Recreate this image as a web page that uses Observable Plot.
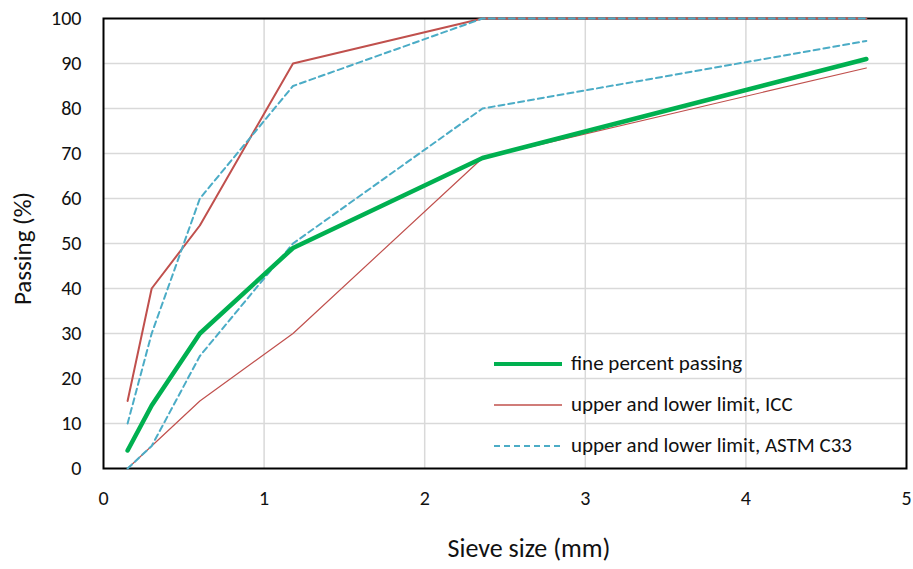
<!DOCTYPE html>
<html><head><meta charset="utf-8">
<script src="https://cdn.jsdelivr.net/npm/d3@7"></script>
<script src="https://cdn.jsdelivr.net/npm/@observablehq/plot@0.6"></script>
<style>
body{margin:0;background:#fff;}
#wrap{position:relative;width:913px;height:569px;font-family:Carlito,Calibri,Lato,sans-serif;color:#000;}
#legend{position:absolute;left:494px;top:343px;font-size:21px;line-height:41px;color:#111;}
#legend .row{display:flex;align-items:center;height:41px;}
#legend svg{margin-right:7px;}
</style>
</head><body><div id="wrap"></div>
<script>
const sieve = [0.15, 0.3, 0.6, 1.18, 2.36, 4.75];
const finePassing = [4, 14, 30, 49, 69, 91];
const iccUpper = [15, 40, 54, 90, 100, 100];
const iccLower = [0, 5, 15, 30, 69, 89];
const astmUpper = [10, 30, 60, 85, 100, 100];
const astmLower = [0, 5, 25, 50, 80, 95];
const xTicks = [0, 1, 2, 3, 4, 5];
const yTicks = [0, 10, 20, 30, 40, 50, 60, 70, 80, 90, 100];
const xLabel = "Sieve size (mm)";
const yLabel = "Passing (%)";
const legendLabels = ["fine percent passing", "upper and lower limit, ICC", "upper and lower limit, ASTM C33"];

const rows = (ys) => sieve.map((x, i) => ({x, y: ys[i]}));

const chart = Plot.plot({
  width: 913, height: 569,
  marginLeft: 103, marginRight: 7, marginTop: 18, marginBottom: 101,
  style: {fontFamily: "Carlito, Calibri, Lato, sans-serif", fontSize: "18px", color: "#111", background: "#fff"},
  x: {domain: [0, 5], ticks: xTicks},
  y: {domain: [0, 100], ticks: yTicks},
  marks: [
    Plot.gridX(xTicks.slice(1, -1), {stroke: "#d9d9d9", strokeOpacity: 1, strokeWidth: 1.5}),
    Plot.gridY(yTicks.slice(1, -1), {stroke: "#d9d9d9", strokeOpacity: 1, strokeWidth: 1.5}),
    Plot.frame({stroke: "#000", strokeWidth: 2}),
    Plot.axisX(xTicks, {tickSize: 0, tickPadding: 22, fontSize: 20, tickFormat: "d", label: xLabel, labelAnchor: "center", labelOffset: 88, labelArrow: "none"}),
    Plot.axisY(yTicks, {tickSize: 0, tickPadding: 22, fontSize: 20, tickFormat: "d", label: yLabel, labelAnchor: "center", labelOffset: 90, labelArrow: "none"}),
    Plot.line(rows(iccLower), {x: "x", y: "y", stroke: "#c0504d", strokeWidth: 1.2}),
    Plot.line(rows(iccUpper), {x: "x", y: "y", stroke: "#c0504d", strokeWidth: 2}),
    Plot.line(rows(astmLower), {x: "x", y: "y", stroke: "#4bacc6", strokeWidth: 2, strokeDasharray: "6,4"}),
    Plot.line(rows(astmUpper), {x: "x", y: "y", stroke: "#4bacc6", strokeWidth: 2, strokeDasharray: "6,4"}),
    Plot.line(rows(finePassing), {x: "x", y: "y", stroke: "#00b050", strokeWidth: 4.5, strokeLinecap: "round", strokeLinejoin: "round"})
  ]
});
const wrap = document.getElementById("wrap");
wrap.appendChild(chart);
chart.querySelectorAll("text").forEach(t => {
  if (t.textContent === xLabel) {
    t.style.fontSize = "26px";
    t.setAttribute("dx", "24");
  } else if (t.textContent === yLabel) {
    t.style.fontSize = "25px";
    t.setAttribute("dx", "-5");
  }
});

const legend = document.createElement("div");
legend.id = "legend";
const swatches = [
  '<line x1="0" y1="7" x2="68" y2="7" stroke="#00b050" stroke-width="4"/>',
  '<line x1="0" y1="7" x2="68" y2="7" stroke="#c0504d" stroke-width="1.5"/>',
  '<line x1="0" y1="7" x2="68" y2="7" stroke="#4bacc6" stroke-width="2" stroke-dasharray="6,4"/>'
];
legendLabels.forEach((lab, i) => {
  const r = document.createElement("div");
  r.className = "row";
  r.innerHTML = `<svg width="70" height="14">${swatches[i]}</svg><span>${lab}</span>`;
  legend.appendChild(r);
});
wrap.appendChild(legend);
</script>
</body></html>
